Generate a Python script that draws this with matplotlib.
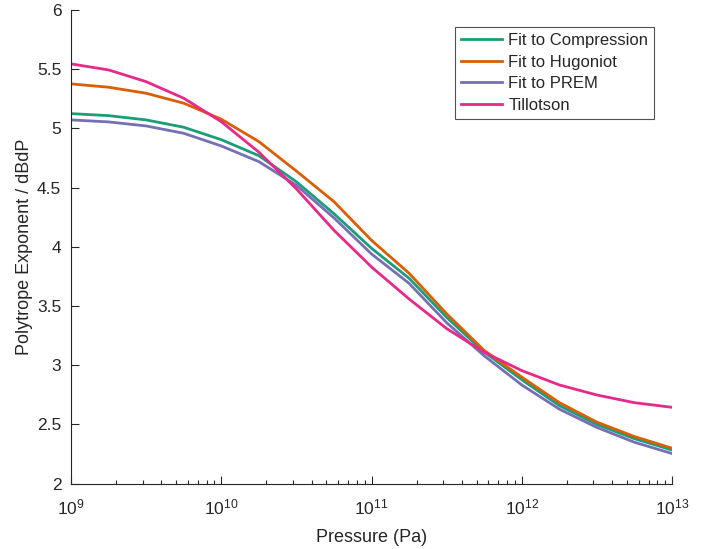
import matplotlib
matplotlib.use("Agg")
import matplotlib.pyplot as plt
from matplotlib.ticker import LogLocator, NullFormatter, MultipleLocator

plt.rcParams["font.family"] = ["Liberation Sans", "DejaVu Sans"]
plt.rcParams["mathtext.default"] = "regular"

# Pressure samples (Pa), quarter-decade spacing from 1e9 to 1e13
pressure = [1.0e9, 1.778e9, 3.162e9, 5.623e9,
            1.0e10, 1.778e10, 3.162e10, 5.623e10,
            1.0e11, 1.778e11, 3.162e11, 5.623e11,
            1.0e12, 1.778e12, 3.162e12, 5.623e12,
            1.0e13]

fit_compression = [5.125, 5.108, 5.072, 5.010, 4.905, 4.770, 4.550, 4.280,
                   3.988, 3.735, 3.405, 3.112, 2.878, 2.660, 2.500, 2.380, 2.285]
fit_hugoniot = [5.376, 5.348, 5.297, 5.213, 5.078, 4.889, 4.640, 4.382,
                4.055, 3.777, 3.435, 3.125, 2.900, 2.685, 2.520, 2.398, 2.300]
fit_prem = [5.072, 5.055, 5.021, 4.959, 4.852, 4.720, 4.520, 4.245,
            3.940, 3.692, 3.360, 3.080, 2.834, 2.630, 2.475, 2.350, 2.255]
tillotson = [5.545, 5.494, 5.395, 5.255, 5.057, 4.800, 4.490, 4.140,
             3.830, 3.560, 3.310, 3.110, 2.955, 2.834, 2.749, 2.684, 2.645]

series_labels = ["Fit to Compression", "Fit to Hugoniot", "Fit to PREM", "Tillotson"]
series_colors = ["#1b9e77", "#d95f02", "#7570b3", "#e7298a"]

ink = "#262626"

fig = plt.figure(figsize=(7.13, 5.49), dpi=100)
ax = fig.add_axes([71 / 713, 1 - 483.7 / 549, (672 - 71) / 713, (483.7 - 10) / 549])

for vals, lab, col in zip([fit_compression, fit_hugoniot, fit_prem, tillotson],
                          series_labels, series_colors):
    ax.plot(pressure, vals, color=col, lw=2.0, label=lab, solid_joinstyle="round")

ax.set_xscale("log")
ax.set_xlim(1e9, 1e13)
ax.set_ylim(2, 6)
ax.yaxis.set_major_locator(MultipleLocator(0.5))
ax.yaxis.set_major_formatter(plt.FuncFormatter(lambda v, p: f"{v:g}"))
ax.xaxis.set_major_locator(LogLocator(base=10, numticks=10))
ax.xaxis.set_minor_locator(LogLocator(base=10, subs=range(2, 10), numticks=20))
ax.xaxis.set_minor_formatter(NullFormatter())

for side in ("top", "right"):
    ax.spines[side].set_visible(False)
for side in ("left", "bottom"):
    ax.spines[side].set_color(ink)
    ax.spines[side].set_linewidth(0.8)

ax.tick_params(axis="both", which="major", direction="in", length=5.5, width=0.8,
               color=ink, labelcolor=ink, labelsize=12.5)
ax.tick_params(axis="x", which="minor", direction="in", length=3, width=0.8, color=ink)
ax.tick_params(axis="x", which="major", pad=10)
ax.tick_params(axis="y", which="major", pad=7)

ax.set_xlabel("Pressure (Pa)", fontsize=13, color=ink, labelpad=8)
ax.set_ylabel("Polytrope Exponent / dBdP", fontsize=13, color=ink, labelpad=3)

leg = ax.legend(loc="upper right", bbox_to_anchor=(0.970, 0.964), borderaxespad=0,
                fontsize=12, frameon=True, fancybox=False, handlelength=2.5,
                handletextpad=0.35, labelspacing=0.4, borderpad=0.35)
leg.get_frame().set_edgecolor(ink)
leg.get_frame().set_linewidth(0.8)
for t in leg.get_texts():
    t.set_color(ink)

fig.savefig("out.png", dpi=100)
